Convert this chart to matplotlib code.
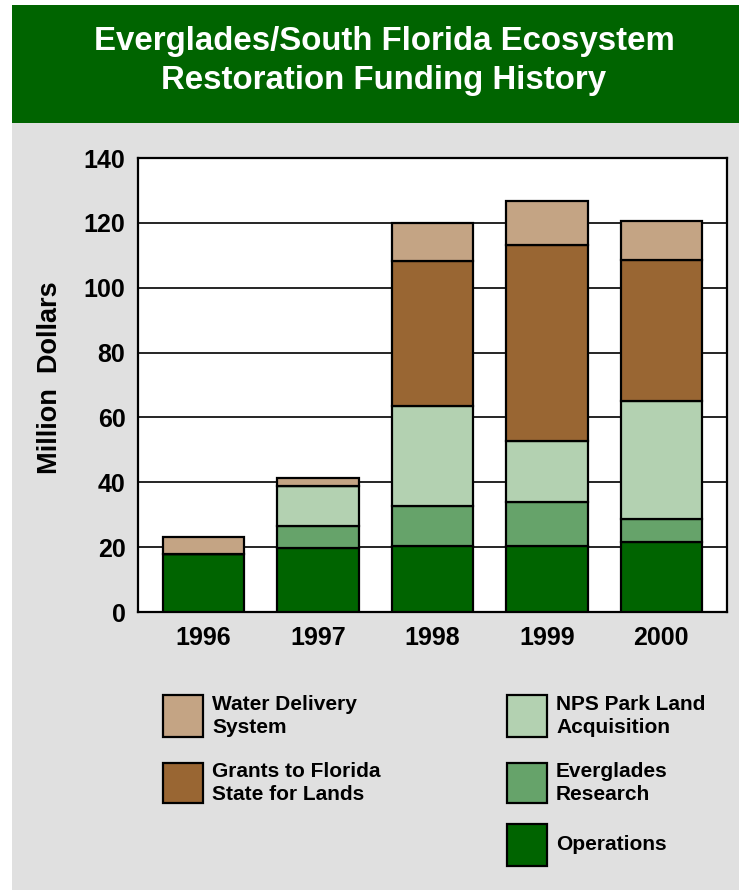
import numpy as np
import matplotlib.pyplot as plt
from matplotlib.patches import Rectangle

plt.rcParams['font.family'] = ['Liberation Sans', 'DejaVu Sans']
plt.rcParams['font.weight'] = 'bold'

# funding by fiscal year, million dollars
years = ['1996', '1997', '1998', '1999', '2000']
operations = [18.0, 19.8, 20.5, 20.5, 21.6]
research = [0.0, 6.8, 12.1, 13.3, 7.2]
nps_land = [0.0, 12.2, 31.0, 18.9, 36.4]
grants = [0.0, 0.0, 44.7, 60.5, 43.3]
water = [5.2, 2.6, 11.7, 13.6, 12.0]

series = [operations, research, nps_land, grants, water]
names = ['Operations', 'Everglades\nResearch', 'NPS Park Land\nAcquisition',
         'Grants to Florida\nState for Lands', 'Water Delivery\nSystem']
colors = ['#006400', '#66a36a', '#b3d1b1', '#996633', '#c4a484']

W, H = 739, 890
fig = plt.figure(figsize=(W / 100, H / 100), dpi=100)
fig.patch.set_facecolor('white')


def fx(px):
    return px / W


def fy(py):
    return 1 - py / H


# grey panel and green header band
fig.add_artist(Rectangle((fx(12), 0), 1 - fx(12), fy(123), transform=fig.transFigure,
                         facecolor='#e0e0e0', edgecolor='none', zorder=0))
fig.add_artist(Rectangle((fx(12), fy(123)), 1 - fx(12), fy(5) - fy(123),
                         transform=fig.transFigure, facecolor='#006400',
                         edgecolor='none', zorder=0))
fig.text(fx(384), fy(61), 'Everglades/South Florida Ecosystem\nRestoration Funding History',
         ha='center', va='center', color='white', fontsize=23.8, fontweight='bold',
         linespacing=1.36)

ax = fig.add_axes([fx(138), fy(612), fx(727) - fx(138), fy(158) - fy(612)])
ax.set_facecolor('white')
x = np.arange(len(years))
bottom = np.zeros(len(years))
for vals, c in zip(series, colors):
    vals = np.array(vals)
    ax.bar(x, vals, width=0.71, bottom=bottom, color=c, edgecolor='black',
           linewidth=1.6, zorder=3)
    bottom += vals

ax.set_ylim(0, 140)
ax.set_xlim(-0.574, 4.574)
ax.set_yticks(range(0, 141, 20))
ax.set_xticks(x)
ax.set_xticklabels(years)
ax.yaxis.grid(True, color='black', linewidth=1.2, zorder=0)
ax.set_axisbelow(True)
ax.tick_params(axis='y', length=0, pad=9, labelsize=18)
ax.tick_params(axis='x', length=0, pad=10, labelsize=18)
for lab in ax.get_xticklabels() + ax.get_yticklabels():
    lab.set_fontweight('bold')
for sp in ax.spines.values():
    sp.set_linewidth(1.6)
    sp.set_color('black')

fig.text(fx(50), fy(378), 'Million  Dollars', rotation=90, ha='center', va='center',
         fontsize=19.5, fontweight='bold')

# legend laid out in two columns
legend_pos = {
    'Water Delivery\nSystem': (163, 695, 42),
    'Grants to Florida\nState for Lands': (163, 763, 40),
    'NPS Park Land\nAcquisition': (507, 695, 42),
    'Everglades\nResearch': (507, 763, 40),
    'Operations': (507, 824, 42),
}
for name, c in zip(names, colors):
    bx, by, bh = legend_pos[name]
    fig.add_artist(Rectangle((fx(bx), fy(by + bh)), fx(40), bh / H,
                             transform=fig.transFigure, facecolor=c,
                             edgecolor='black', linewidth=1.6, zorder=2))
    fig.text(fx(bx + 49), fy(by + bh / 2), name, ha='left', va='center',
             fontsize=15, fontweight='bold', linespacing=1.25)

fig.savefig('out.png', dpi=100)
